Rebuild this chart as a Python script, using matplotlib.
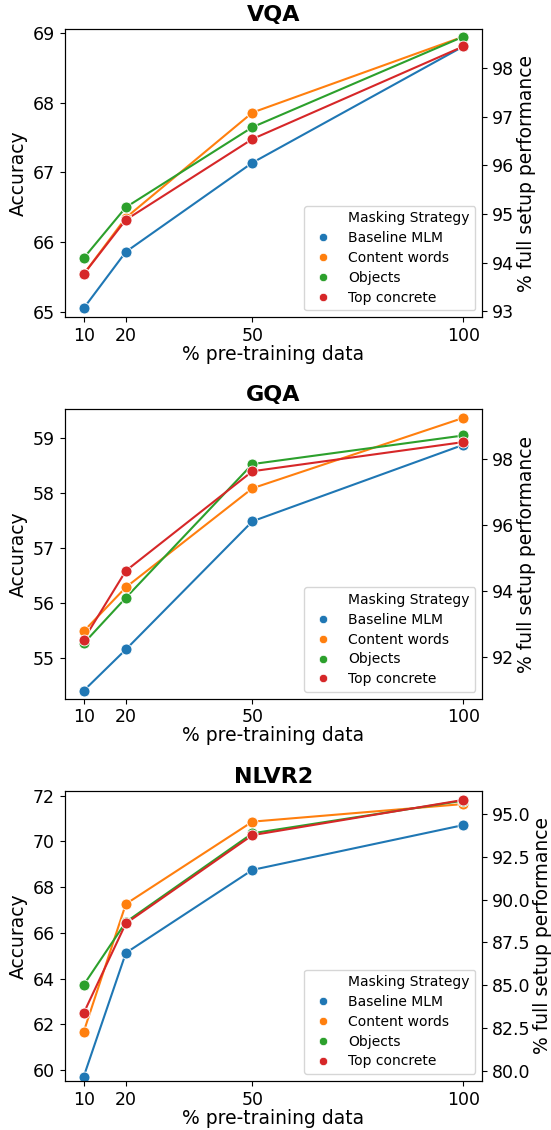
import matplotlib
matplotlib.use("Agg")
import matplotlib.pyplot as plt
from matplotlib.lines import Line2D

x_pct = [10, 20, 50, 100]
strategies = ["Baseline MLM", "Content words", "Objects", "Top concrete"]
colors = ["#1f77b4", "#ff7f0e", "#2ca02c", "#d62728"]

vqa = {
    "Baseline MLM": [65.05, 65.86, 67.14, 68.81],
    "Content words": [65.54, 66.35, 67.86, 68.95],
    "Objects": [65.77, 66.50, 67.65, 68.95],
    "Top concrete": [65.54, 66.32, 67.48, 68.81],
}
gqa = {
    "Baseline MLM": [54.40, 55.15, 57.48, 58.87],
    "Content words": [55.48, 56.28, 58.08, 59.36],
    "Objects": [55.26, 56.09, 58.52, 59.04],
    "Top concrete": [55.33, 56.58, 58.39, 58.92],
}
nlvr2 = {
    "Baseline MLM": [59.71, 65.12, 68.75, 70.71],
    "Content words": [61.67, 67.26, 70.86, 71.63],
    "Objects": [63.72, 66.47, 70.35, 71.78],
    "Top concrete": [62.49, 66.41, 70.27, 71.81],
}
full_setup = {"VQA": 69.9, "GQA": 59.8, "NLVR2": 74.95}

panels = [
    ("VQA", vqa, (64.92, 69.06), [65, 66, 67, 68, 69], [93, 94, 95, 96, 97, 98], "{:.0f}"),
    ("GQA", gqa, (54.255, 59.516), [55, 56, 57, 58, 59], [92, 94, 96, 98], "{:.0f}"),
    ("NLVR2", nlvr2, (59.52, 72.2), [60, 62, 64, 66, 68, 70, 72], [80.0, 82.5, 85.0, 87.5, 90.0, 92.5, 95.0], "{:.1f}"),
]

W, H = 551, 1130
fig = plt.figure(figsize=(W / 100, H / 100), dpi=100)

# axes boxes in pixels: left, top, right, bottom
boxes = [(64.7, 29.0, 482.3, 317.3), (64.7, 409.3, 482.3, 698.7), (64.7, 791.0, 482.3, 1081.0)]
right_label_x = [526, 526, 543]

TICK = 12.5
LAB = 13.5

for (name, data, ylim, lticks, rticks, fmt), (l, t, r, b), rlx in zip(panels, boxes, right_label_x):
    aw, ah = r - l, b - t
    ax = fig.add_axes([l / W, 1 - b / H, aw / W, ah / H])
    for s, c in zip(strategies, colors):
        ax.plot(x_pct, data[s], color=c, lw=1.5, zorder=2)
        ax.scatter(x_pct, data[s], color=c, s=62, edgecolor="white", linewidth=0.6, zorder=3)
    ax.set_xlim(5.5, 104.5)
    ax.set_ylim(*ylim)
    ax.set_xticks(x_pct)
    ax.set_yticks(lticks)
    ax.tick_params(labelsize=TICK)
    ax.set_xlabel("% pre-training data", fontsize=LAB, va="center")
    ax.xaxis.set_label_coords(0.5, -37 / ah)
    ax.set_ylabel("Accuracy", fontsize=LAB, va="center")
    ax.yaxis.set_label_coords((18 - l) / aw, 0.5)
    ax.set_title(name, fontsize=16, fontweight="bold", pad=6)

    ax2 = ax.twinx()
    ax2.set_ylim(ylim[0] * 100 / full_setup[name], ylim[1] * 100 / full_setup[name])
    ax2.set_yticks(rticks)
    ax2.set_yticklabels([fmt.format(v) for v in rticks])
    ax2.tick_params(labelsize=TICK)
    ax2.set_ylabel("% full setup performance", fontsize=LAB, va="center")
    ax2.yaxis.set_label_coords((rlx - l) / aw, 0.5)

    handles = [Line2D([], [], linestyle="", marker="")]
    labels = ["Masking Strategy"]
    for s, c in zip(strategies, colors):
        handles.append(Line2D([], [], linestyle="", marker="o", color=c,
                              markersize=6, markeredgecolor="white", markeredgewidth=0.5))
        labels.append(s)
    ax2.legend(handles, labels, loc="lower right", fontsize=10, frameon=True,
               labelspacing=0.42)

fig.savefig("out.png", dpi=100)
